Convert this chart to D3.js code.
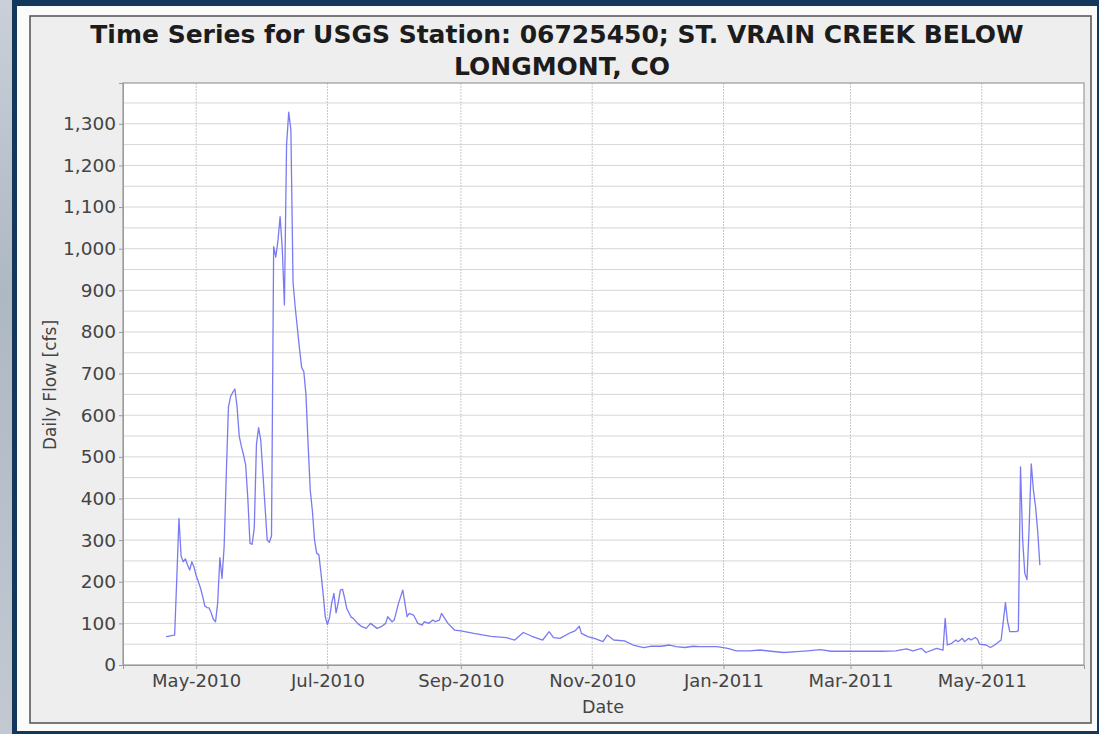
<!DOCTYPE html>
<html>
<head>
<meta charset="utf-8">
<script src="https://cdn.jsdelivr.net/npm/d3@7"></script>
<style>
  html, body { margin: 0; padding: 0; }
  body { width: 1099px; height: 734px; overflow: hidden; background: #b7c0ca; }
  text { font-family: "DejaVu Sans", sans-serif; }
</style>
</head>
<body>
<svg id="chart" width="1099" height="734"></svg>
<script>
// ---- data ----
const titleLines = ["Time Series for USGS Station: 06725450; ST. VRAIN CREEK BELOW", "LONGMONT, CO"];
const xLabel = "Date";
const yLabel = "Daily Flow [cfs]";
const yTicks = [0, 100, 200, 300, 400, 500, 600, 700, 800, 900, 1000, 1100, 1200, 1300];

const dates = [
  "2010-04-17","2010-04-18","2010-04-19","2010-04-20","2010-04-21","2010-04-22","2010-04-23","2010-04-24",
  "2010-04-25","2010-04-26","2010-04-27","2010-04-28","2010-04-29","2010-04-30","2010-05-01","2010-05-02",
  "2010-05-03","2010-05-04","2010-05-05","2010-05-06","2010-05-07","2010-05-08","2010-05-09","2010-05-10",
  "2010-05-11","2010-05-12","2010-05-13","2010-05-14","2010-05-15","2010-05-16","2010-05-17","2010-05-18",
  "2010-05-19","2010-05-20","2010-05-21","2010-05-22","2010-05-23","2010-05-24","2010-05-25","2010-05-26",
  "2010-05-27","2010-05-28","2010-05-29","2010-05-30","2010-05-31","2010-06-01","2010-06-02","2010-06-03",
  "2010-06-04","2010-06-05","2010-06-06","2010-06-07","2010-06-08","2010-06-09","2010-06-10","2010-06-11",
  "2010-06-12","2010-06-13","2010-06-14","2010-06-15","2010-06-16","2010-06-17","2010-06-18","2010-06-19",
  "2010-06-20","2010-06-21","2010-06-22","2010-06-23","2010-06-24","2010-06-25","2010-06-26","2010-06-27",
  "2010-06-28","2010-06-29","2010-06-30","2010-07-01","2010-07-02","2010-07-03","2010-07-04","2010-07-05",
  "2010-07-06","2010-07-07","2010-07-08","2010-07-09","2010-07-10","2010-07-11","2010-07-12","2010-07-13",
  "2010-07-15","2010-07-17","2010-07-19","2010-07-21","2010-07-24","2010-07-26","2010-07-28","2010-07-29",
  "2010-07-31","2010-08-01","2010-08-03","2010-08-05","2010-08-06","2010-08-07","2010-08-08","2010-08-10",
  "2010-08-12","2010-08-14","2010-08-15","2010-08-17","2010-08-19","2010-08-20","2010-08-22","2010-08-23",
  "2010-08-25","2010-08-26","2010-08-29","2010-09-01","2010-09-07","2010-09-15","2010-09-22","2010-09-26",
  "2010-09-30","2010-10-04","2010-10-09","2010-10-12","2010-10-14","2010-10-17","2010-10-22","2010-10-24",
  "2010-10-26","2010-10-27","2010-10-30","2010-11-02","2010-11-06","2010-11-08","2010-11-11","2010-11-16",
  "2010-11-20","2010-11-25","2010-11-28","2010-12-03","2010-12-07","2010-12-10","2010-12-14","2010-12-18",
  "2010-12-21","2010-12-29","2011-01-03","2011-01-07","2011-01-13","2011-01-18","2011-01-23","2011-01-29",
  "2011-02-04","2011-02-09","2011-02-15","2011-02-20","2011-02-28","2011-03-16","2011-03-22","2011-03-27",
  "2011-03-30","2011-04-03","2011-04-05","2011-04-10","2011-04-13","2011-04-14","2011-04-15","2011-04-17",
  "2011-04-19","2011-04-20","2011-04-22","2011-04-23","2011-04-25","2011-04-26","2011-04-28","2011-04-29",
  "2011-04-30","2011-05-03","2011-05-05","2011-05-07","2011-05-10","2011-05-12","2011-05-13","2011-05-14",
  "2011-05-17","2011-05-18","2011-05-19","2011-05-20","2011-05-21","2011-05-22","2011-05-23","2011-05-24",
  "2011-05-25","2011-05-26","2011-05-27","2011-05-28"
];
const flows = [
  68, 69, 70, 71, 72, 210, 352, 262,
  248, 255, 240, 228, 248, 235, 215, 200,
  185, 165, 142, 138, 137, 125, 110, 104,
  150, 258, 208, 285, 460, 620, 645, 655,
  663, 620, 550, 525, 505, 480, 400, 292,
  290, 330, 530, 570, 540, 460, 380, 300,
  295, 310, 1005, 980, 1020, 1077, 1000, 865,
  1250, 1328, 1285, 920, 860, 810, 760, 715,
  705, 650, 530, 420, 370, 300, 268, 265,
  220, 170, 115, 97, 115, 150, 172, 125,
  150, 180, 182, 160, 135, 125, 115, 112,
  100, 92, 88, 100, 88, 92, 100, 116,
  104, 108, 148, 180, 148, 116, 124, 120,
  100, 96, 104, 100, 108, 104, 108, 124,
  108, 100, 84, 82, 76, 69, 66, 60,
  78, 69, 60, 80, 66, 64, 78, 82,
  93, 76, 68, 64, 56, 72, 60, 58,
  48, 42, 45, 45, 48, 44, 42, 45,
  44, 44, 40, 34, 34, 36, 33, 30,
  32, 34, 37, 33, 33, 33, 34, 39,
  34, 40, 30, 40, 36, 112, 48, 52,
  60, 56, 64, 56, 64, 60, 66, 62,
  50, 48, 42, 48, 60, 150, 105, 80,
  80, 82, 476, 300, 220, 205, 330, 483,
  420, 380, 320, 240
];

// ---- drawing ----
const svg = d3.select("#chart");
const parse = d3.utcParse("%Y-%m-%d");
const data = dates.map((d, i) => ({ date: parse(d), value: flows[i] }));

// background photo-ish gradient
const defs = svg.append("defs");
const grad = defs.append("linearGradient").attr("id", "bg").attr("x1", 0).attr("y1", 0).attr("x2", 0).attr("y2", 1);
grad.append("stop").attr("offset", "0%").attr("stop-color", "#c9d0d8");
grad.append("stop").attr("offset", "40%").attr("stop-color", "#aeb8c3");
grad.append("stop").attr("offset", "100%").attr("stop-color", "#c2c9d1");
svg.append("rect").attr("x", 0).attr("y", 0).attr("width", 1099).attr("height", 734).attr("fill", "url(#bg)");

// navy frame + white card
svg.append("rect").attr("x", 12).attr("y", -10).attr("width", 1100).attr("height", 745).attr("fill", "#14375c");
svg.append("rect").attr("x", 17).attr("y", 6).attr("width", 1080).attr("height", 725).attr("fill", "#fbfbfb");

// chart panel
svg.append("rect").attr("x", 30).attr("y", 16).attr("width", 1061).attr("height", 707)
  .attr("fill", "#eeeeee").attr("stroke", "#5a5a5a").attr("stroke-width", 1.6);

const plot = { left: 123, top: 83, right: 1084, bottom: 665 };

const x = d3.scaleUtc()
  .domain([new Date(Date.UTC(2010, 2, 28)), new Date(Date.UTC(2011, 5, 17, 12))])
  .range([plot.left, plot.right]);
const y = d3.scaleLinear().domain([0, 1398]).range([plot.bottom, plot.top]);

svg.append("rect").attr("x", plot.left).attr("y", plot.top)
  .attr("width", plot.right - plot.left).attr("height", plot.bottom - plot.top)
  .attr("fill", "#ffffff");

// horizontal grid (every 50)
const gridVals = d3.range(50, 1398, 50);
svg.append("g").selectAll("line").data(gridVals).join("line")
  .attr("x1", plot.left).attr("x2", plot.right)
  .attr("y1", d => y(d)).attr("y2", d => y(d))
  .attr("stroke", "#d6d6d6").attr("stroke-width", 1);

// vertical grid at month ticks
const xTickVals = x.ticks(d3.utcMonth.every(2));
svg.append("g").selectAll("line").data(xTickVals).join("line")
  .attr("x1", d => x(d)).attr("x2", d => x(d))
  .attr("y1", plot.top).attr("y2", plot.bottom)
  .attr("stroke", "#c8c8c8").attr("stroke-width", 1).attr("stroke-dasharray", "2,1");

// plot border
svg.append("rect").attr("x", plot.left).attr("y", plot.top)
  .attr("width", plot.right - plot.left).attr("height", plot.bottom - plot.top)
  .attr("fill", "none").attr("stroke", "#9a9a9a").attr("stroke-width", 1.2);

// axes
const yAxis = d3.axisLeft(y).tickValues(yTicks).tickFormat(d3.format(",")).tickSize(4).tickPadding(3);
const gy = svg.append("g").attr("transform", `translate(${plot.left},0)`).call(yAxis);
gy.select(".domain").attr("stroke", "#9a9a9a");
gy.selectAll(".tick line").attr("stroke", "#9a9a9a");
gy.selectAll(".tick text").attr("fill", "#444").style("font-size", "18.5px").style("font-family", "DejaVu Sans");

const xAxis = d3.axisBottom(x).tickValues(xTickVals).tickFormat(d3.utcFormat("%b-%Y")).tickSize(4).tickPadding(5);
const gx = svg.append("g").attr("transform", `translate(0,${plot.bottom})`).call(xAxis);
gx.select(".domain").attr("stroke", "#9a9a9a");
gx.selectAll(".tick line").attr("stroke", "#9a9a9a");
gx.selectAll(".tick text").attr("fill", "#444").style("font-size", "18px").style("font-family", "DejaVu Sans");

// line
const line = d3.line().x(d => x(d.date)).y(d => y(d.value));
svg.append("path").datum(data).attr("d", line)
  .attr("fill", "none").attr("stroke", "#6b6bf2").attr("stroke-width", 1.3)
  .attr("stroke-linejoin", "round").attr("opacity", 0.9);

// titles
svg.append("text").attr("x", 557).attr("y", 43).attr("text-anchor", "middle")
  .style("font-size", "25px").style("font-weight", "bold").attr("fill", "#1c1c1c").text(titleLines[0]);
svg.append("text").attr("x", 562).attr("y", 75).attr("text-anchor", "middle")
  .style("font-size", "25px").style("font-weight", "bold").attr("fill", "#1c1c1c").text(titleLines[1]);

svg.append("text").attr("x", 603).attr("y", 713).attr("text-anchor", "middle")
  .style("font-size", "17.5px").attr("fill", "#444").text(xLabel);
svg.append("text").attr("transform", "translate(56,385) rotate(-90)").attr("text-anchor", "middle")
  .style("font-size", "17px").attr("fill", "#444").text(yLabel);
</script>
</body>
</html>
